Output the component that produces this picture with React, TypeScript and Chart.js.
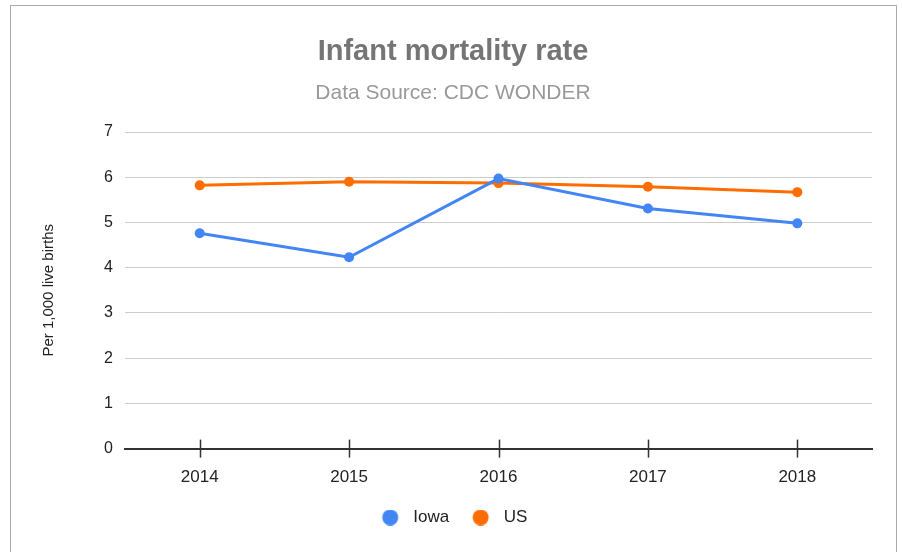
import React, { useEffect, useRef } from "react";
import { Chart, registerables } from "chart.js";

Chart.register(...registerables);

const years = ["2014", "2015", "2016", "2017", "2018"];
const iowaRate = [4.76, 4.23, 5.97, 5.31, 4.98];
const usRate = [5.82, 5.9, 5.87, 5.79, 5.67];
const yTickValues = [0, 1, 2, 3, 4, 5, 6, 7];
const seriesColors = ["#4285f4", "#ff6d01"];

const FONT = "'Liberation Sans', Arial, sans-serif";
const LEGEND_W = 26;

function makeDot(color: string): HTMLCanvasElement {
  const c = document.createElement("canvas");
  c.width = LEGEND_W;
  c.height = 16;
  const g = c.getContext("2d")!;
  g.fillStyle = color;
  g.beginPath();
  g.arc(LEGEND_W - 14.5, 8, 8, 0, Math.PI * 2);
  g.fill();
  return c;
}

const crossTicks = {
  id: "crossTicks",
  afterDatasetsDraw(chart: any) {
    const x = chart.scales.x;
    const y0 = chart.chartArea.bottom;
    const ctx = chart.ctx;
    ctx.save();
    ctx.strokeStyle = "#333333";
    ctx.lineWidth = 1.5;
    for (let i = 0; i < x.ticks.length; i++) {
      const px = Math.round(x.getPixelForTick(i)) + 0.5;
      ctx.beginPath();
      ctx.moveTo(px, y0 - 9);
      ctx.lineTo(px, y0 + 9);
      ctx.stroke();
    }
    ctx.restore();
  },
};

export default function App() {
  const ref = useRef<HTMLCanvasElement>(null);
  useEffect(() => {
    if (!ref.current) return;
    const dots = seriesColors.map(makeDot);
    const chart = new Chart(ref.current, {
      type: "line",
      data: {
        labels: years,
        datasets: [
          {
            label: "Iowa",
            data: iowaRate,
            borderColor: seriesColors[0],
            backgroundColor: seriesColors[0],
            borderWidth: 3,
            pointRadius: 5,
            pointHoverRadius: 5,
            pointBorderWidth: 0,
            tension: 0,
          },
          {
            label: "US",
            data: usRate,
            borderColor: seriesColors[1],
            backgroundColor: seriesColors[1],
            borderWidth: 3,
            pointRadius: 5,
            pointHoverRadius: 5,
            pointBorderWidth: 0,
            tension: 0,
          },
        ],
      },
      plugins: [crossTicks],
      options: {
        animation: false,
        responsive: false,
        maintainAspectRatio: false,
        layout: { padding: { left: 34, right: 30, top: 35, bottom: 16 } },
        plugins: {
          title: {
            display: true,
            text: "Infant mortality rate",
            color: "#757575",
            font: { family: FONT, size: 29, weight: "bold" },
            padding: { top: 0, bottom: 11 },
          },
          subtitle: {
            display: true,
            text: "Data Source: CDC WONDER",
            color: "#999999",
            font: { family: FONT, size: 21 },
            padding: { top: 0, bottom: 26 },
          },
          legend: {
            position: "bottom",
            labels: {
              usePointStyle: true,
              pointStyleWidth: LEGEND_W,
              boxHeight: 16,
              color: "#222222",
              font: { family: FONT, size: 17 },
              padding: 20,
              generateLabels(chart: any) {
                return chart.data.datasets.map((ds: any, i: number) => ({
                  text: ds.label,
                  fillStyle: ds.backgroundColor,
                  strokeStyle: ds.backgroundColor,
                  lineWidth: 0,
                  pointStyle: dots[i],
                  hidden: false,
                  datasetIndex: i,
                  fontColor: "#222222",
                }));
              },
            },
          },
          tooltip: { enabled: false },
        },
        scales: {
          x: {
            offset: true,
            afterFit(scale: any) {
              scale.height = scale.height - 18;
            },
            grid: { display: false, drawTicks: false },
            border: { display: true, color: "#333333", width: 2 },
            ticks: {
              color: "#222222",
              font: { family: FONT, size: 17 },
              padding: 19,
            },
          },
          y: {
            min: 0,
            max: 7,
            afterFit(scale: any) {
              scale.width = 91;
            },
            afterBuildTicks(scale: any) {
              scale.ticks = yTickValues.map((v) => ({ value: v }));
            },
            grid: {
              drawTicks: false,
              color: (c: any) => (c.tick && c.tick.value === 0 ? "rgba(0,0,0,0)" : "#cccccc"),
              lineWidth: 1,
            },
            border: { display: false },
            ticks: {
              color: "#222222",
              font: { family: FONT, size: 16 },
              padding: 12,
            },
            title: {
              display: true,
              text: "Per 1,000 live births",
              color: "#222222",
              font: { family: FONT, size: 15 },
              padding: { top: 6, bottom: 0 },
            },
          },
        },
      },
    });
    return () => chart.destroy();
  }, []);
  return (
    <div style={{ position: "fixed", left: 0, top: 0, width: 902, height: 552, overflow: "hidden", background: "#fff" }}>
      <div
        style={{
          position: "absolute",
          left: 10,
          top: 5,
          width: 885,
          height: 600,
          border: "1px solid #aaaaaa",
        }}
      />
      <canvas ref={ref} width={902} height={552} style={{ position: "absolute", left: 0, top: 0 }} />
    </div>
  );
}
